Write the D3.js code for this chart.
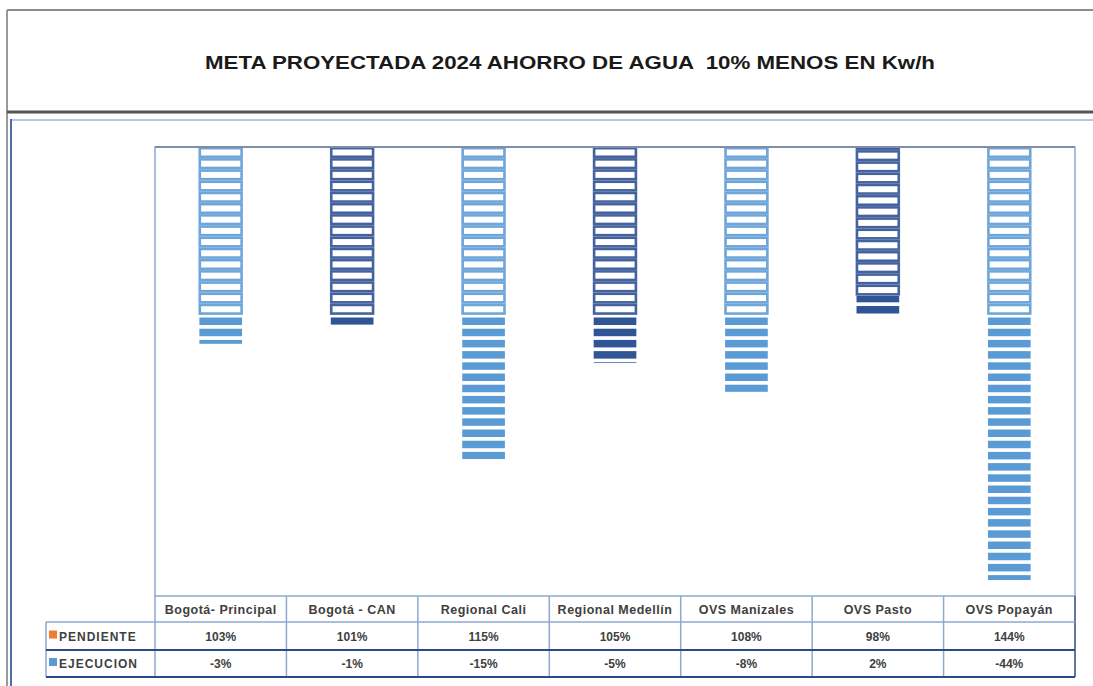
<!DOCTYPE html>
<html>
  <head>
    <meta charset="utf-8" />
    <title>Meta proyectada 2024</title>
    <script src="https://d3js.org/d3.v7.min.js"></script>
    <style>
      body { margin: 0; background: #fff; }
      text { font-family: "Liberation Sans", Arial, sans-serif; white-space: pre; }
    </style>
  </head>

  <body>
    <svg width="1093" height="686"></svg>

    <script type="text/javascript">
      // data (table values)
      var categories = [
        "Bogotá- Principal",
        "Bogotá - CAN",
        "Regional Cali",
        "Regional Medellín",
        "OVS Manizales",
        "OVS Pasto",
        "OVS Popayán"
      ];
      var pendiente = [103, 101, 115, 105, 108, 98, 144];
      var ejecucion = [-3, -1, -15, -5, -8, 2, -44];
      var seriesNames = ["PENDIENTE", "EJECUCION"];
      var legendColors = ["#ed7d31", "#5b9bd5"];

      var svg = d3.select("svg");
      var plot = { left: 155, right: 1075, top: 147, bottom: 596 };

      // title box
      svg.append("line").attr("x1", 7).attr("x2", 1093).attr("y1", 10).attr("y2", 10)
        .attr("stroke", "#8c8c8c").attr("stroke-width", 2);
      svg.append("line").attr("x1", 7).attr("x2", 7).attr("y1", 10).attr("y2", 686)
        .attr("stroke", "#9a9a9a").attr("stroke-width", 2);
      svg.append("line").attr("x1", 7).attr("x2", 1093).attr("y1", 112).attr("y2", 112)
        .attr("stroke", "#555").attr("stroke-width", 3);
      svg.append("line").attr("x1", 11).attr("x2", 1093).attr("y1", 120).attr("y2", 120)
        .attr("stroke", "#b4c7e7").attr("stroke-width", 2);
      svg.append("line").attr("x1", 11).attr("x2", 11).attr("y1", 119).attr("y2", 686)
        .attr("stroke", "#4a6fa5").attr("stroke-width", 2);

      svg.append("text")
        .attr("x", 570)
        .attr("y", 69)
        .attr("text-anchor", "middle")
        .attr("font-size", 19)
        .attr("font-weight", "bold")
        .attr("fill", "#1a1a1a")
        .attr("textLength", 730)
        .attr("lengthAdjust", "spacingAndGlyphs")
        .text("META PROYECTADA 2024 AHORRO DE AGUA  10% MENOS EN Kw/h");

      var xScale = d3.scaleBand()
        .domain(categories)
        .range([plot.left, plot.right])
        .paddingInner(0.66)
        .paddingOuter(0.33);

      var colScale = d3.scaleBand()
        .domain(categories)
        .range([plot.left, plot.right]);

      // value axis (hidden): 0 sits at y=315, bars run off the top
      var yScale = d3.scaleLinear()
        .domain([-27.6, 17.5])
        .range([580, plot.top]);

      var rows = categories.map(function (c, i) {
        return { cat: c, ejecucion: ejecucion[i], pendiente: pendiente[i], idx: i };
      });
      var stacked = d3.stack()
        .keys(["ejecucion", "pendiente"])
        .offset(d3.stackOffsetDiverging)(rows);

      svg.append("defs").append("clipPath").attr("id", "plotClip")
        .append("rect")
        .attr("x", plot.left)
        .attr("y", yScale.range()[1])
        .attr("width", plot.right - plot.left)
        .attr("height", yScale.range()[0] - yScale.range()[1]);

      var light = { fill: "#5b9bd5", line: "#6fa6da", tint: "#c2d8ef" };
      var dark = { fill: "#2f5597", line: "#44639e", tint: "#b9c3db" };

      var g = svg.append("g").attr("clip-path", "url(#plotClip)");
      var period = 11.2;

      stacked.forEach(function (layer) {
        var outlined = layer.key === "pendiente";
        layer.forEach(function (d) {
          var i = d.data.idx;
          var pal = i % 2 === 0 ? light : dark;
          var top = yScale(d[1]), bottom = yScale(d[0]);
          var goingUp = d.data[layer.key] >= 0;
          var x = xScale(d.data.cat), w = xScale.bandwidth();
          var n = Math.ceil((bottom - top) / period);
          var blocks = d3.range(n).map(function (k) {
            var h = outlined ? 8.5 : 7.5;
            var y0;
            if (goingUp) {
              y0 = bottom - 1.5 - k * period - h;
            } else {
              y0 = top + 2.5 + k * period;
            }
            var y1 = Math.min(y0 + h, bottom);
            y0 = Math.max(y0, top);
            return { y: y0, h: Math.max(0, y1 - y0) };
          });
          if (outlined) {
            g.append("rect")
              .attr("x", x).attr("width", w)
              .attr("y", top).attr("height", bottom - top)
              .attr("fill", pal.tint);
            g.selectAll(null).data(blocks).enter().append("rect")
              .attr("x", x + 1.5).attr("width", w - 3)
              .attr("y", function (b) { return b.y; })
              .attr("height", function (b) { return b.h; })
              .attr("fill", "#fff")
              .attr("stroke", pal.line)
              .attr("stroke-width", 2.5);
          } else {
            g.selectAll(null).data(blocks).enter().append("rect")
              .attr("x", x + 1).attr("width", w - 2)
              .attr("y", function (b) { return b.y; })
              .attr("height", function (b) { return b.h; })
              .attr("fill", pal.fill);
          }
        });
      });

      // plot frame
      svg.append("rect")
        .attr("x", plot.left).attr("y", plot.top)
        .attr("width", plot.right - plot.left).attr("height", plot.bottom - plot.top)
        .attr("fill", "none").attr("stroke", "#8ea9d0").attr("stroke-width", 1.5);
      svg.append("line").attr("x1", plot.left).attr("x2", plot.right)
        .attr("y1", plot.top).attr("y2", plot.top)
        .attr("stroke", "#7d8fab").attr("stroke-width", 2);

      // data table
      var rowY = [596, 622, 650, 677];
      var legendLeft = 46;
      var table = svg.append("g");

      table.selectAll(null).data(categories.concat([null])).enter().append("line")
        .attr("x1", function (d, i) { return i < categories.length ? colScale(d) : plot.right; })
        .attr("x2", function (d, i) { return i < categories.length ? colScale(d) : plot.right; })
        .attr("y1", rowY[0]).attr("y2", rowY[3])
        .attr("stroke", function (d, i) { return i === categories.length ? "#2e4a86" : "#8ea9d0"; })
        .attr("stroke-width", 1.5);
      table.append("line").attr("x1", legendLeft).attr("x2", legendLeft)
        .attr("y1", rowY[1]).attr("y2", rowY[3])
        .attr("stroke", "#8ea9d0").attr("stroke-width", 1.5);
      table.append("line").attr("x1", legendLeft).attr("x2", plot.right)
        .attr("y1", rowY[1]).attr("y2", rowY[1])
        .attr("stroke", "#8ea9d0").attr("stroke-width", 1.5);
      [rowY[2], rowY[3]].forEach(function (yy) {
        table.append("line").attr("x1", legendLeft).attr("x2", plot.right)
          .attr("y1", yy).attr("y2", yy)
          .attr("stroke", "#2e4a86").attr("stroke-width", 1.8);
      });

      table.selectAll(null).data(categories).enter().append("text")
        .attr("x", function (d) { return colScale(d) + colScale.bandwidth() / 2; })
        .attr("y", (rowY[0] + rowY[1]) / 2 + 4.5)
        .attr("text-anchor", "middle")
        .attr("font-size", 12.5)
        .attr("font-weight", "bold")
        .attr("letter-spacing", 0.5)
        .attr("fill", "#404040")
        .text(function (d) { return d; });

      [pendiente, ejecucion].forEach(function (vals, r) {
        var cy = (rowY[r + 1] + rowY[r + 2]) / 2 + 4.5;
        table.selectAll(null).data(vals).enter().append("text")
          .attr("x", function (d, i) { return colScale(categories[i]) + colScale.bandwidth() / 2; })
          .attr("y", cy)
          .attr("text-anchor", "middle")
          .attr("font-size", 12)
          .attr("font-weight", "bold")
          .attr("fill", "#404040")
          .text(function (d) { return d + "%"; });
        table.append("rect")
          .attr("x", legendLeft + 3).attr("y", cy - 10)
          .attr("width", 8).attr("height", 8)
          .attr("fill", legendColors[r]);
        table.append("text")
          .attr("x", legendLeft + 13).attr("y", cy)
          .attr("font-size", 12)
          .attr("font-weight", "bold")
          .attr("letter-spacing", 1)
          .attr("fill", "#404040")
          .text(seriesNames[r]);
      });
    </script>
  </body>
</html>
